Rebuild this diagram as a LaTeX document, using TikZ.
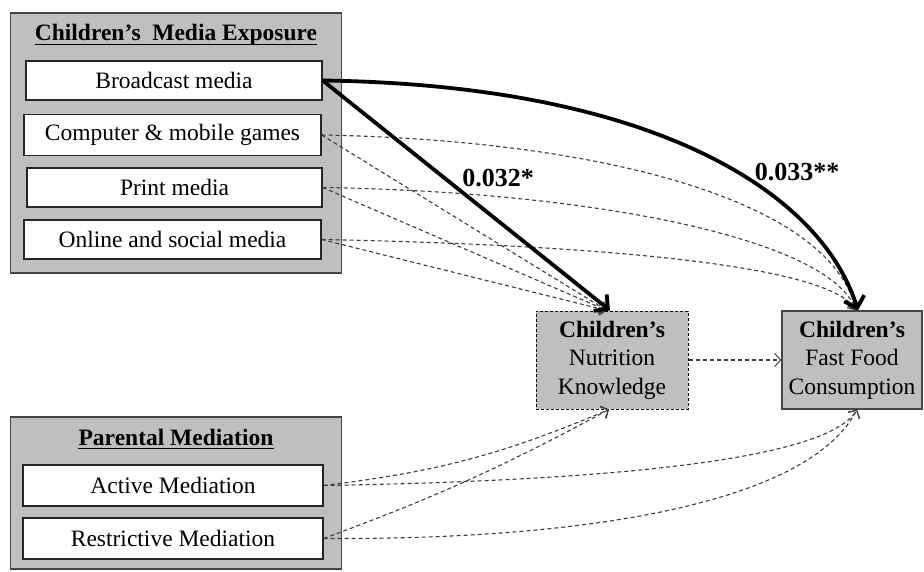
\documentclass[tikz,border=0pt]{standalone}
\usepackage{fontspec}
\setmainfont{Liberation Serif}
\usetikzlibrary{arrows.meta}
\definecolor{boxgray}{RGB}{191,191,191}
\definecolor{edgegray}{RGB}{70,70,70}
\definecolor{dashgray}{RGB}{60,60,60}
\begin{document}
\begin{tikzpicture}[x=1pt,y=-1pt,
  font=\fontsize{23.5}{28}\selectfont,
  group/.style={rectangle,draw=edgegray,line width=1.5pt,fill=boxgray,inner sep=0pt},
  item/.style={rectangle,draw=black!85,line width=1.3pt,fill=white,inner sep=0pt},
  dep/.style={rectangle,fill=boxgray,inner sep=0pt,align=center,minimum height=98pt,
    font=\fontsize{23.5}{28.5}\selectfont},
  gtitle/.style={inner sep=0pt,anchor=base,font=\bfseries\fontsize{23.5}{28}\selectfont},
  uline/.style={line width=1.5pt},
  dline/.style={draw=dashgray,line width=1.1pt,dash pattern=on 4pt off 3pt,
    -{Straight Barb[length=6pt,width=13pt,line width=1pt]}},
  sig/.style={line width=3.8pt,-{Straight Barb[length=10pt,width=21pt,line width=3.8pt]}},
  coef/.style={inner sep=0pt,font=\bfseries\fontsize{26}{30}\selectfont}]
\useasboundingbox (0,0) rectangle (924,572);

% group boxes
\node[group,minimum width=331pt,minimum height=260pt] (g1) at (176,143) {};
\node[group,minimum width=331pt,minimum height=152pt] (g2) at (176,493) {};

\node[gtitle] (t1) at (176,41) {Children’s\ \ Media Exposure};
\draw[uline] ([yshift=-3.5pt]t1.base west) -- ([yshift=-3.5pt]t1.base east);
\node[gtitle] (t2) at (176,445) {Parental Mediation};
\draw[uline] ([yshift=-3.5pt]t2.base west) -- ([yshift=-3.5pt]t2.base east);

% items
\node[item,minimum width=296pt,minimum height=39pt] (bm) at (174,80.5) {Broadcast media};
\node[item,minimum width=297pt,minimum height=41pt] (cg) at (172.5,135) {Computer \& mobile games};
\node[item,minimum width=295pt,minimum height=39pt] (pm) at (174.5,187.5) {Print media};
\node[item,minimum width=297pt,minimum height=39pt] (os) at (172.5,239.5) {Online and social media};
\node[item,minimum width=300pt,minimum height=41pt] (am) at (173,485.5) {Active Mediation};
\node[item,minimum width=300pt,minimum height=41pt] (rm) at (173,538.5) {Restrictive Mediation};

% dependent boxes
\node[dep,draw=black,line width=1pt,dash pattern=on 3pt off 2pt,minimum width=152pt] (nk) at (612,360)
  {\textbf{Children’s}\\Nutrition\\Knowledge};
\node[dep,draw=edgegray,line width=1.3pt,minimum width=140pt] (ff) at (852,360)
  {\textbf{Children’s}\\Fast Food\\Consumption};

\coordinate (nkT) at ([xshift=-5pt]nk.north);
\coordinate (ffT) at ([xshift=4pt]ff.north);
\coordinate (nkB) at ([xshift=-3pt]nk.south);
\coordinate (ffB) at ([xshift=5pt]ff.south);

% dashed paths (non-significant)
\draw[dline] (cg.east) -- (nkT);
\draw[dline] (pm.east) -- (nkT);
\draw[dline] (os.east) -- (nkT);
\draw[dline] (cg.east) .. controls (600,140) and (830,200) .. (ffT);
\draw[dline] (pm.east) .. controls (600,192) and (830,240) .. (ffT);
\draw[dline] (os.east) .. controls (600,245) and (830,265) .. (ffT);
\draw[dline] (nk.east) -- (ff.west);
\draw[dline] (am.east) to[bend right=8] (nkB);
\draw[dline] (rm.east) to[bend right=4] (nkB);
\draw[dline] (am.east) .. controls (650,480) and (830,455) .. (ffB);
\draw[dline] (rm.east) .. controls (600,540) and (810,500) .. (ffB);

% significant paths
\draw[sig] (bm.east) -- ([xshift=-2pt]nk.north);
\draw[sig] (bm.east) .. controls (650,85) and (820,190) .. ([xshift=6pt]ff.north);

\node[coef] (c1) at (498,178) {0.032*};
\node[coef] (c2) at (797,172) {0.033**};
\end{tikzpicture}
\end{document}
